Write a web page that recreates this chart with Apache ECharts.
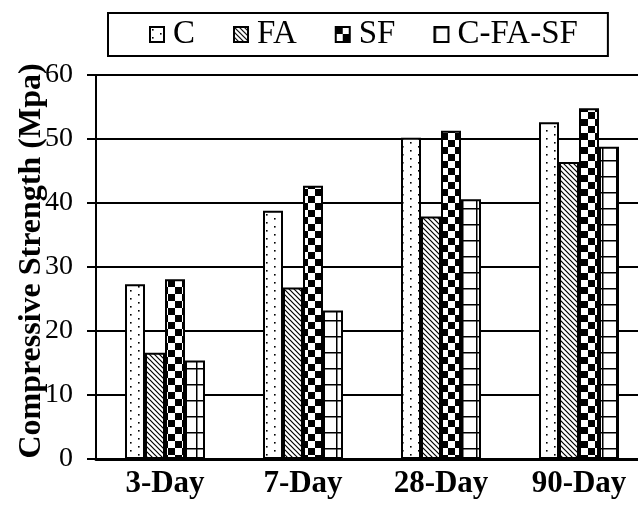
<!DOCTYPE html>
<html>
<head>
<meta charset="utf-8">
<script src="https://cdn.jsdelivr.net/npm/echarts@6/dist/echarts.min.js"></script>
<style>html,body{margin:0;padding:0;background:#fff;}#chart{width:638px;height:514px;}</style>
</head>
<body>
<div id="chart"></div>
<script>
const categories = ['3-Day', '7-Day', '28-Day', '90-Day'];
const seriesNames = ['C', 'FA', 'SF', 'C-FA-SF'];
const valuesC = [27.3, 38.8, 50.2, 52.6];
const valuesFA = [16.6, 26.8, 37.9, 46.4];
const valuesSF = [28.1, 42.7, 51.3, 54.8];
const valuesCFASF = [15.4, 23.2, 40.6, 48.8];
const yTicks = [0, 10, 20, 30, 40, 50, 60];

function makePattern(w, h, draw) {
  const c = document.createElement('canvas');
  c.width = w; c.height = h;
  const ctx = c.getContext('2d');
  ctx.fillStyle = '#fff';
  ctx.fillRect(0, 0, w, h);
  ctx.fillStyle = '#000';
  ctx.strokeStyle = '#000';
  draw(ctx, w, h);
  return { image: c, repeat: 'repeat' };
}
const patDots = makePattern(16, 8, function (ctx) {
  ctx.fillRect(2, 2, 1.6, 1.6);
  ctx.fillRect(10, 6, 1.6, 1.6);
});
const patDiag = makePattern(5, 5, function (ctx, w, h) {
  ctx.lineWidth = 1.2;
  ctx.beginPath();
  ctx.moveTo(-1, -1); ctx.lineTo(w + 1, h + 1);
  ctx.moveTo(-1, h - 1); ctx.lineTo(1, h + 1);
  ctx.moveTo(w - 1, -1); ctx.lineTo(w + 1, 1);
  ctx.stroke();
});
const patCheck = makePattern(14, 14, function (ctx) {
  ctx.fillRect(0, 0, 7, 7);
  ctx.fillRect(7, 7, 7, 7);
});
const patGrid = makePattern(14, 16, function (ctx) {
  ctx.fillRect(0, 0, 14, 1.5);
  ctx.fillRect(0, 0, 1.5, 16);
});

const patterns = [patDots, patDiag, patCheck, patGrid];
const dataSets = [valuesC, valuesFA, valuesSF, valuesCFASF];

const chart = echarts.init(document.getElementById('chart'), null, { renderer: 'canvas' });
const serif = 'Liberation Serif, Times New Roman, serif';

chart.setOption({
  animation: false,
  backgroundColor: '#fff',
  legend: {
    data: seriesNames,
    left: 108,
    top: 13,
    padding: [5, 30, 5, 41],
    itemGap: 38,
    itemWidth: 14,
    itemHeight: 15,
    icon: 'rect',
    borderColor: '#000',
    borderWidth: 2,
    textStyle: { fontFamily: serif, fontSize: 33, color: '#000', padding: [0, 0, 0, 4] }
  },
  grid: { left: 96, right: -10, top: 75, bottom: 55, containLabel: false, outerBoundsMode: 'none' },
  xAxis: {
    type: 'category',
    data: categories,
    axisTick: { show: false },
    axisLine: { lineStyle: { color: '#000', width: 3 } },
    axisLabel: { interval: 0, fontFamily: serif, fontWeight: 'bold', fontSize: 31, color: '#000', margin: 9 }
  },
  yAxis: {
    type: 'value',
    min: yTicks[0],
    max: yTicks[yTicks.length - 1],
    interval: 10,
    name: 'Compressive Strength (Mpa)',
    nameLocation: 'middle',
    nameGap: 48,
    nameMoveOverlap: false,
    nameTextStyle: { fontFamily: serif, fontWeight: 'bold', fontSize: 32, color: '#000', padding: [0, 0, 0, 12] },
    axisLine: { show: true, lineStyle: { color: '#000', width: 2 } },
    axisTick: { show: true, inside: false, length: 9, lineStyle: { color: '#000', width: 2 } },
    axisLabel: { fontFamily: serif, fontSize: 28, color: '#000', margin: 23 },
    splitLine: { show: true, lineStyle: { color: '#000', width: 2 } }
  },
  series: seriesNames.map(function (name, i) {
    return {
      name: name,
      type: 'bar',
      data: dataSets[i],
      barWidth: 20,
      barGap: '0%',
      itemStyle: { color: patterns[i], borderColor: '#000', borderWidth: 2 }
    };
  })
});
</script>
</body>
</html>
